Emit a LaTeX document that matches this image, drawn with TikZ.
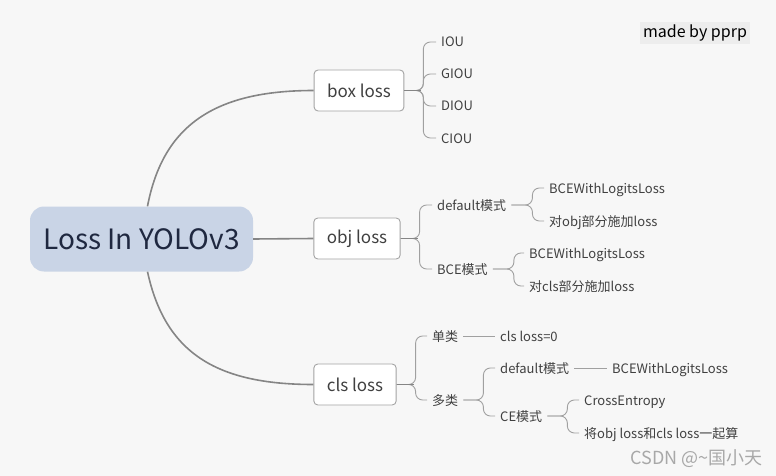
\documentclass[tikz,border=0pt]{standalone}
\usepackage{fontspec}
\setmainfont{Noto Sans CJK SC}
\definecolor{bgcol}{HTML}{F7F7F7}
\definecolor{rootfill}{HTML}{C9D4E6}
\definecolor{roottext}{HTML}{1F2840}
\definecolor{topicline}{HTML}{A3A3A3}
\definecolor{maincol}{HTML}{858585}
\definecolor{subcol}{HTML}{A0A0A0}
\definecolor{leaftext}{HTML}{404040}
\definecolor{tagfill}{HTML}{EDEDED}
\definecolor{wmgray}{HTML}{A8A8A8}

\begin{document}
\begin{tikzpicture}[x=1pt,y=-1pt,
  rootbox/.style={rectangle,rounded corners=14pt,fill=rootfill,text=roottext,minimum width=223pt,minimum height=65pt,font=\fontsize{28}{30}\selectfont},
  topic/.style={rectangle,rounded corners=4pt,draw=topicline,line width=0.9pt,fill=white,text=leaftext,minimum height=41pt,inner xsep=13pt,font=\fontsize{17}{19}\selectfont},
  leaf/.style={anchor=west,inner xsep=5pt,inner ysep=0pt,text height=11.5pt,text depth=1.5pt,text=leaftext,font=\fontsize{13}{15}\selectfont},
  main/.style={draw=maincol,line width=1.6pt},
  brace/.style={draw=subcol,line width=0.9pt,rounded corners=7pt}]
  \fill[bgcol] (0,0) rectangle (776,476);
  \useasboundingbox (0,0) rectangle (776,476);

  \node[rootbox] (root) at (141.5,239) {Loss In YOLOv3};
  \node[topic] (box) at (359,90.5) {box loss};
  \node[topic] (obj) at (357,238.5) {obj loss};
  \node[topic] (cls) at (355,384.5) {cls loss};

  \draw[main] ([xshift=6pt]root.north) .. controls (163,125) and (215,90.5) .. (box.west);
  \draw[main] (root.east) -- (obj.west);
  \draw[main] ([xshift=6pt]root.south) .. controls (165,352) and (215,384.5) .. (cls.west);

  \foreach \name/\y in {IOU/42,GIOU/74,DIOU/106,CIOU/138}{
    \node[leaf] (\name) at (436,\y) {\name};
    \draw[brace] (box.east) -- ++(19,0) |- (\name.west);
  }
  \draw[main] (box.east) -- ++(17,0);

  \node[leaf] (objdef) at (432,205) {default模式};
  \node[leaf] (objbce) at (432,269) {BCE模式};
  \draw[brace] (obj.east) -- ++(19,0) |- (objdef.west);
  \draw[brace] (obj.east) -- ++(19,0) |- (objbce.west);
  \draw[main] (obj.east) -- ++(17,0);

  \node[leaf] (objdefa) at (544,188) {BCEWithLogitsLoss};
  \node[leaf] (objdefb) at (544,221) {对obj部分施加loss};
  \draw[brace] (objdef.east) -- ++(21,0) |- (objdefa.west);
  \draw[brace] (objdef.east) -- ++(21,0) |- (objdefb.west);

  \node[leaf] (objbcea) at (524,253) {BCEWithLogitsLoss};
  \node[leaf] (objbceb) at (524,286) {对cls部分施加loss};
  \draw[brace] (objbce.east) -- ++(21,0) |- (objbcea.west);
  \draw[brace] (objbce.east) -- ++(21,0) |- (objbceb.west);

  \node[leaf] (single) at (427,336) {单类};
  \node[leaf] (multi) at (427,400) {多类};
  \draw[brace] (cls.east) -- ++(19,0) |- (single.west);
  \draw[brace] (cls.east) -- ++(19,0) |- (multi.west);
  \draw[main] (cls.east) -- ++(17,0);

  \node[leaf] (zero) at (495,336) {cls loss=0};
  \draw[brace] (single.east) -- (zero.west);

  \node[leaf] (clsdef) at (495,368) {default模式};
  \node[leaf] (clsce) at (495,416) {CE模式};
  \draw[brace] (multi.east) -- ++(20,0) |- (clsdef.west);
  \draw[brace] (multi.east) -- ++(20,0) |- (clsce.west);

  \node[leaf] (clsdefa) at (607,368) {BCEWithLogitsLoss};
  \draw[brace] (clsdef.east) -- (clsdefa.west);

  \node[leaf] (clscea) at (579,400) {CrossEntropy};
  \node[leaf] (clsceb) at (579,433) {将obj loss和cls loss一起算};
  \draw[brace] (clsce.east) -- ++(20,0) |- (clscea.west);
  \draw[brace] (clsce.east) -- ++(20,0) |- (clsceb.west);

  \node[fill=tagfill,text=black,minimum width=110pt,minimum height=22pt,inner sep=0pt,font=\fontsize{16}{18}\selectfont] (tag) at (695,33) {made by pprp};
  \node[anchor=east,text=wmgray,inner sep=0pt,font=\fontsize{18}{20}\selectfont] (wm) at (763,459) {CSDN @\textasciitilde 国小天};
\end{tikzpicture}
\end{document}
